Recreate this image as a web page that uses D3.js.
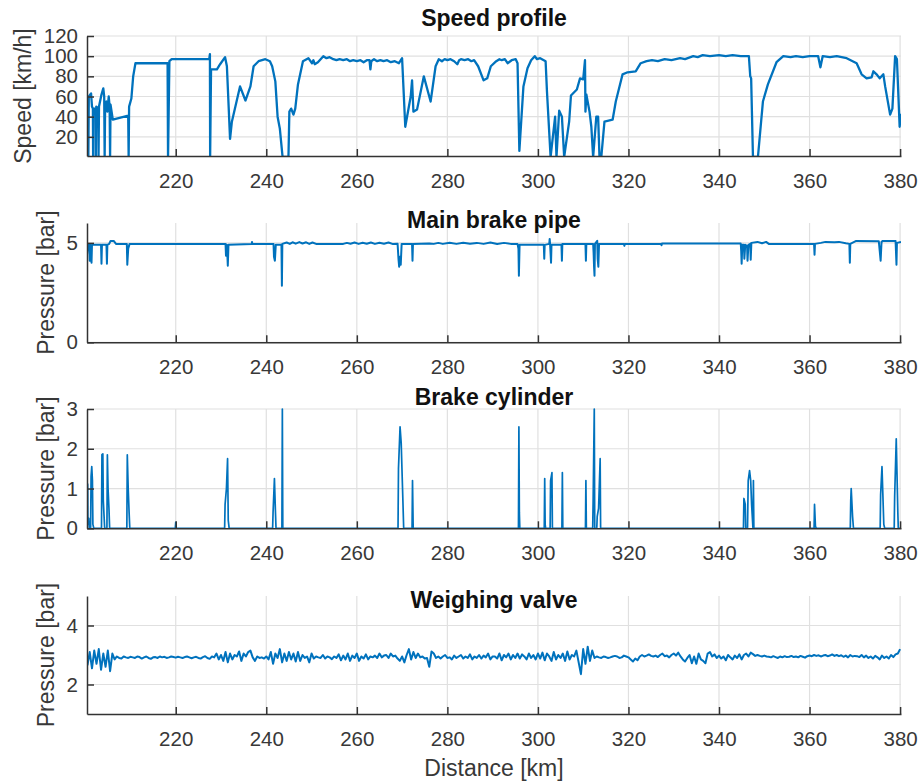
<!DOCTYPE html>
<html>
<head>
<meta charset="utf-8">
<script src="https://cdn.jsdelivr.net/npm/d3@7"></script>
<style>
  body { margin: 0; background: #fff; }
  svg { font-family: "Liberation Sans", Arial, Helvetica, sans-serif; }
</style>
</head>
<body>
<script>
// distance axis shared by all four panels
var kmDomain = [200.4, 380.2];
var kmTicks = [220, 240, 260, 280, 300, 320, 340, 360, 380];

// speed profile [km, km/h]
var speedData = [
  [200.4, 60], [200.6, 58], [200.7, 0], [200.8, 60], [201.3, 63], [201.5, 50], [201.7, 48], [201.75, 0],
  [201.8, 48], [202.3, 48], [202.35, 0], [202.45, 50], [202.9, 48], [202.95, 0], [203.05, 50], [203.6, 62],
  [204.0, 68], [204.2, 60], [204.3, 0], [204.4, 50], [204.7, 55], [204.9, 45], [205.2, 60], [205.4, 50],
  [205.5, 0], [205.6, 52], [206.1, 37], [209.5, 41], [209.6, 0], [209.7, 50], [210.2, 58], [210.6, 80],
  [211.1, 93], [218.2, 93], [218.3, 0], [218.6, 95], [219.1, 97], [227.4, 97], [227.55, 102], [227.6, 0],
  [227.8, 87], [229.1, 87], [229.8, 92], [230.9, 99], [231.3, 90], [232.0, 18], [232.4, 35], [234.2, 70],
  [235.4, 56], [236.5, 70], [237.2, 90], [238.3, 95], [239.8, 97], [240.8, 95], [241.3, 90], [242.0, 75],
  [242.5, 40], [243.0, 28], [243.6, 0], [244.9, 0], [245.1, 45], [245.5, 48], [246.0, 42], [246.4, 48],
  [247.0, 72], [248.1, 95], [249.3, 98], [250.1, 93], [250.4, 96], [250.7, 92], [251.4, 94], [252.6, 100],
  [253.3, 98], [254.0, 99], [254.8, 97], [255.5, 96], [256.2, 97], [257.0, 96], [257.8, 97], [258.5, 95],
  [259.2, 96], [260.0, 95], [260.8, 96], [261.5, 94], [262.2, 96], [262.8, 96], [263.0, 87], [263.2, 95],
  [263.8, 97], [264.5, 95], [265.2, 96], [265.9, 95], [266.7, 96], [267.5, 94], [268.4, 95], [269.3, 93],
  [270.0, 98], [270.7, 30], [271.9, 60], [272.2, 76], [272.5, 45], [273.3, 47], [274.8, 80], [276.3, 55],
  [277.4, 90], [278.1, 97], [278.8, 95], [279.4, 97], [280.0, 96], [280.7, 97], [281.5, 95], [282.2, 92],
  [282.6, 96], [283.0, 97], [283.8, 96], [284.6, 97], [285.3, 95], [285.9, 96], [286.8, 90], [288.0, 76],
  [288.8, 78], [289.6, 90], [290.8, 95], [291.5, 97], [292.0, 96], [292.7, 97], [293.3, 93], [294.2, 96],
  [295.1, 97], [295.5, 93], [295.9, 6], [296.8, 70], [297.7, 88], [298.5, 96], [299.3, 100], [299.8, 97],
  [300.5, 98], [301.7, 95], [302.0, 65], [302.8, 0], [303.8, 40], [304.1, 0], [304.7, 46], [305.3, 40],
  [305.8, 0], [306.9, 35], [307.3, 61], [308.6, 67], [309.3, 78], [310.0, 77], [310.4, 96], [310.5, 45],
  [310.7, 62], [311.4, 45], [311.8, 30], [312.2, 0], [312.9, 40], [313.3, 40], [313.6, 0], [314.0, 0],
  [314.7, 35], [316.5, 37], [317.2, 55], [318.7, 82], [319.8, 84], [321.6, 85], [322.7, 93], [324.0, 95],
  [325.2, 96], [326.5, 95], [328.0, 97], [329.5, 96], [331.4, 98], [332.5, 97], [334.3, 100], [335.3, 99],
  [336.4, 101], [338.0, 100], [340.0, 101], [341.5, 100], [343.0, 101], [344.8, 100], [346.6, 100],
  [346.9, 80], [347.1, 78], [347.5, 0], [348.6, 0], [349.7, 55], [350.8, 72], [352.7, 94], [354.2, 100],
  [355.8, 99], [357.0, 100], [358.5, 99], [360.0, 100], [361.9, 100], [362.4, 89], [362.9, 100], [364.5, 99],
  [366.0, 100], [368.2, 98], [370.4, 93], [371.5, 82], [372.6, 78], [373.7, 79], [374.1, 85], [374.8, 82],
  [375.5, 78], [376.3, 82], [376.7, 70], [377.8, 42], [378.3, 48], [378.9, 100], [379.3, 97], [379.9, 30],
  [380.2, 43]
];

// main brake pipe [km, bar]
var pipeData = [
  [200.4, 4.4], [200.6, 4.9], [200.9, 4.9], [201.0, 4.1], [201.1, 4.9], [201.4, 4.0], [201.5, 4.9],
  [203.5, 4.9], [203.6, 3.95], [203.7, 4.9], [204.7, 4.9], [204.8, 3.95], [204.9, 4.9], [205.3, 4.95],
  [205.6, 5.1], [206.3, 5.1], [206.8, 4.95], [209.2, 4.95], [209.3, 3.9], [209.5, 4.7], [209.8, 4.95],
  [231.0, 4.95], [231.1, 4.35], [231.25, 4.9], [231.4, 4.4], [231.5, 3.85], [231.65, 4.9], [236.8, 4.95],
  [236.85, 5.05], [236.9, 4.95], [241.6, 4.95], [241.7, 4.3], [241.9, 4.1], [242.1, 4.9], [243.35, 4.9],
  [243.45, 2.85], [243.55, 4.95], [244.5, 5.02], [245.2, 4.95], [245.8, 5.03], [246.5, 4.96], [247.3, 5.04],
  [248.0, 4.97], [248.8, 5.03], [249.5, 4.95], [250.2, 5.02], [251.0, 4.95], [257.0, 4.95], [257.8, 5.0],
  [258.6, 4.96], [259.5, 5.02], [260.4, 4.95], [261.3, 5.01], [262.2, 4.96], [263.1, 5.02], [264.0, 4.95],
  [265.0, 5.01], [266.0, 4.96], [267.0, 5.02], [268.0, 4.94], [269.0, 4.96], [269.2, 4.2], [269.35, 3.8],
  [269.5, 4.3], [269.7, 3.9], [269.9, 4.95], [272.2, 4.95], [272.3, 4.1], [272.4, 4.95], [276.0, 4.97],
  [277.0, 4.95], [278.0, 5.0], [279.0, 4.95], [280.5, 5.01], [282.0, 4.95], [283.5, 5.01], [285.0, 4.96],
  [286.5, 5.0], [288.0, 4.95], [289.5, 5.02], [291.0, 4.94], [292.5, 5.0], [294.0, 4.95], [295.5, 4.95],
  [295.7, 4.7], [295.8, 3.35], [295.95, 4.9], [301.3, 4.9], [301.4, 4.2], [301.5, 4.9], [302.5, 4.95],
  [302.6, 5.2], [302.7, 4.9], [302.9, 4.0], [303.0, 4.9], [305.2, 4.9], [305.3, 4.1], [305.4, 4.95],
  [310.5, 4.95], [310.6, 4.1], [310.7, 4.95], [312.2, 4.95], [312.3, 4.5], [312.4, 3.8], [312.5, 3.35],
  [312.6, 4.95], [313.1, 5.1], [313.2, 4.2], [313.35, 3.8], [313.5, 4.95], [319.0, 4.95], [319.1, 4.85],
  [319.2, 4.95], [327.2, 4.95], [327.3, 4.88], [327.4, 4.97], [344.8, 4.97], [344.9, 4.6], [345.0, 3.95],
  [345.15, 4.9], [345.5, 4.9], [345.6, 4.2], [345.8, 4.9], [346.2, 4.85], [346.3, 4.1], [346.5, 4.9],
  [346.9, 4.95], [347.0, 4.15], [347.15, 5.0], [348.5, 5.05], [349.5, 4.98], [350.4, 5.05], [351.0, 4.95],
  [361.0, 4.95], [361.1, 4.4], [361.2, 4.95], [362.5, 5.0], [363.5, 5.05], [365.5, 5.03], [366.5, 5.05],
  [368.0, 4.98], [368.8, 4.95], [368.9, 4.0], [369.0, 4.95], [370.3, 5.1], [375.3, 5.08], [375.5, 4.6],
  [375.7, 4.1], [375.9, 5.05], [376.2, 5.1], [379.0, 5.1], [379.1, 4.5], [379.2, 3.9], [379.3, 5.0],
  [380.2, 5.05]
];

// brake cylinder [km, bar]
var cylinderData = [
  [200.4, 1.15], [200.55, 1.1], [200.6, 0.1], [200.8, 0.25], [200.9, 0], [201.2, 0], [201.3, 1.3],
  [201.45, 1.55], [201.6, 1.2], [201.7, 0.1], [201.9, 0], [203.6, 0], [203.7, 1.85], [203.9, 1.87],
  [204.0, 0.7], [204.15, 0.35], [204.3, 0], [204.8, 0], [204.9, 1.85], [205.05, 1.0], [205.25, 0.5],
  [205.4, 0], [209.2, 0], [209.3, 1.85], [209.5, 1.0], [209.7, 0.4], [209.85, 0], [219.9, 0], [220.0, 0.15],
  [220.1, 0], [230.8, 0], [230.9, 0.6], [231.2, 1.0], [231.45, 1.75], [231.6, 0.2], [231.8, 0], [241.4, 0],
  [241.5, 0.4], [241.8, 1.25], [242.0, 0.5], [242.15, 0], [243.45, 0], [243.55, 3.0], [243.65, 0],
  [269.1, 0], [269.2, 1.5], [269.55, 2.55], [269.8, 2.15], [270.2, 0.6], [270.35, 0], [272.2, 0],
  [272.3, 1.2], [272.45, 0], [295.7, 0], [295.8, 2.55], [295.9, 0.4], [296.0, 0], [301.4, 0], [301.5, 1.25],
  [301.6, 0.1], [301.7, 0], [302.7, 0], [302.8, 1.2], [303.1, 1.4], [303.2, 0], [305.3, 0], [305.4, 1.4],
  [305.5, 0], [310.5, 0], [310.6, 1.2], [310.7, 0], [312.1, 0], [312.2, 0.7], [312.45, 3.0], [312.55, 0],
  [313.0, 0], [313.1, 0.3], [313.4, 0.5], [313.75, 1.75], [313.85, 0], [345.4, 0], [345.5, 0.75],
  [345.8, 0.6], [345.9, 0], [346.3, 0], [346.45, 1.2], [346.75, 1.45], [347.0, 1.2], [347.2, 0.6],
  [347.5, 0], [347.6, 1.2], [347.7, 0], [361.0, 0], [361.1, 0.6], [361.3, 0.05], [361.5, 0], [369.0, 0],
  [369.1, 0.7], [369.2, 1.0], [369.5, 0.3], [369.7, 0], [375.6, 0], [375.7, 0.85], [376.0, 1.55],
  [376.4, 0.1], [376.6, 0], [378.7, 0], [378.8, 0.8], [379.15, 2.25], [379.5, 0.4], [379.6, 0], [380.2, 0]
];

// weighing valve, one reading every 0.5 km from 200.5 km [bar]
var valveStart = 200.5;
var valveStep = 0.5;
var valveValues = [
  2.65, 3.10, 2.55, 3.15, 2.70, 3.20, 2.50, 3.05, 2.60, 3.15,
  2.45, 3.05, 2.85, 2.95, 2.90, 2.88, 2.95, 2.92, 2.90, 2.94,
  2.92, 2.90, 2.95, 2.93, 2.88, 2.92, 2.95, 2.90, 2.87, 2.92,
  2.93, 2.90, 2.95, 2.92, 2.94, 2.90, 2.92, 2.95, 2.93, 2.91,
  2.94, 2.92, 2.90, 2.93, 2.95, 2.92, 2.89, 2.92, 2.94, 2.90,
  2.88, 2.93, 2.96, 2.90, 2.87, 2.95, 2.92, 3.05, 2.85, 3.00,
  2.80, 3.10, 2.75, 3.05, 2.85, 3.00, 2.95, 3.12, 2.80, 3.05,
  2.95, 3.10, 3.15, 2.92, 2.80, 2.95, 2.90, 2.92, 2.88, 2.95,
  2.85, 3.10, 2.70, 3.05, 2.90, 3.20, 2.75, 3.05, 2.80, 3.10,
  2.85, 3.05, 2.78, 3.10, 2.80, 3.00, 2.90, 2.95, 2.75, 3.05,
  2.88, 2.95, 2.92, 2.90, 3.00, 2.88, 2.95, 2.92, 2.86, 2.95,
  2.90, 3.02, 2.82, 2.98, 2.85, 3.05, 2.80, 2.98, 2.90, 3.05,
  2.80, 2.95, 2.88, 3.02, 2.85, 2.95, 2.92, 2.98, 2.90, 3.05,
  2.92, 2.98, 3.00, 2.90, 3.05, 2.95, 2.98, 2.88, 2.80, 2.95,
  2.75, 3.00, 3.20, 2.85, 3.10, 2.90, 3.05, 2.92, 2.95, 2.88,
  2.90, 2.60, 3.12, 3.05, 2.90, 2.95, 2.88, 2.95, 3.00, 2.90,
  2.92, 2.85, 2.98, 2.90, 2.95, 3.00, 2.88, 2.95, 2.90, 3.02,
  2.85, 2.95, 2.90, 3.00, 2.88, 2.98, 2.92, 3.05, 2.85, 2.95,
  2.95, 2.88, 3.05, 2.82, 3.00, 2.92, 3.05, 2.85, 3.00, 2.90,
  3.05, 2.88, 3.02, 2.95, 2.85, 3.05, 2.90, 3.00, 2.85, 3.05,
  2.88, 3.08, 2.82, 3.05, 2.95, 2.80, 3.10, 2.85, 3.00, 2.90,
  3.05, 2.80, 3.12, 2.85, 3.00, 2.95, 3.15, 2.75, 2.35, 3.20,
  2.70, 3.28, 2.80, 3.15, 2.90, 2.95, 2.92, 2.90, 2.95, 2.93,
  2.90, 2.92, 2.95, 2.97, 2.95, 2.90, 2.92, 2.98, 2.95, 2.92,
  2.85, 2.78, 2.88, 2.82, 2.95, 3.00, 2.95, 2.98, 3.02, 2.97,
  2.95, 2.98, 2.93, 3.00, 3.05, 2.96, 2.98, 2.92, 3.00, 3.05,
  2.98, 3.08, 2.95, 2.85, 2.78, 2.90, 3.00, 2.72, 2.95, 2.70,
  3.05, 2.85, 2.80, 2.72, 3.05, 3.10, 2.95, 3.02, 2.90, 2.98,
  2.88, 2.95, 2.82, 3.00, 2.92, 2.85, 2.98, 2.90, 3.02, 2.85,
  3.00, 3.05, 2.95, 3.08, 3.03, 2.97, 3.00, 2.97, 2.95, 2.98,
  2.95, 2.94, 2.92, 2.96, 2.93, 2.90, 2.95, 2.92, 2.96, 2.93,
  2.94, 2.97, 2.93, 2.95, 2.92, 2.97, 2.94, 2.91, 2.96, 2.98,
  2.96, 3.00, 2.97, 2.99, 2.95, 2.98, 3.00, 2.96, 2.98, 3.02,
  2.97, 3.00, 2.96, 2.99, 2.94, 2.98, 2.92, 3.00, 2.95, 2.97,
  2.96, 2.93, 3.00, 2.92, 2.98, 2.90, 2.95, 2.88, 2.97, 2.92,
  2.85, 2.98, 2.90, 2.95, 2.88, 3.00, 2.93, 3.02, 3.05, 3.20
];
var valveData = valveValues.map(function(v, i) { return [valveStart + i * valveStep, v]; });

var titles = ['Speed profile', 'Main brake pipe', 'Brake cylinder', 'Weighing valve'];
var yLabels = ['Speed [km/h]', 'Pressure [bar]', 'Pressure [bar]', 'Pressure [bar]'];
var yDomains = [[1, 120], [0, 6], [0, 3], [1, 5]];
var yTicks = [[20, 40, 60, 80, 100, 120], [0, 5], [0, 1, 2, 3], [2, 4]];

var width = 922, height = 784;
var left = 87, right = 901;
var lineColor = '#0072bd';
var axisColor = '#333';
var fontFamily = '"Liberation Sans", Arial, Helvetica, sans-serif';

// layout of each panel: top, bottom, title baseline, y-label x, line width
var panels = [
  {data: speedData, top: 36, bottom: 156, titleY: 26, labelX: 23, lw: 2.3},
  {data: pipeData, top: 223, bottom: 342.3, titleY: 228, labelX: 46, lw: 2},
  {data: cylinderData, top: 409, bottom: 528.3, titleY: 405, labelX: 46, lw: 1.7},
  {data: valveData, top: 596, bottom: 714, titleY: 608, labelX: 46, lw: 2}
];

var svg = d3.select('body').append('svg')
  .attr('width', width)
  .attr('height', height);

var x = d3.scaleLinear().domain(kmDomain).range([left, right]);

panels.forEach(function(p, i) {
  var y = d3.scaleLinear().domain(yDomains[i]).range([p.bottom, p.top]);
  var g = svg.append('g');

  // grid
  g.selectAll('line.vgrid').data(kmTicks).enter().append('line')
    .attr('x1', function(d) { return x(d); })
    .attr('x2', function(d) { return x(d); })
    .attr('y1', p.top)
    .attr('y2', p.bottom)
    .attr('stroke', '#e0e0e0')
    .attr('stroke-width', 1.2);

  g.selectAll('line.hgrid').data(yTicks[i]).enter().append('line')
    .attr('x1', left)
    .attr('x2', right)
    .attr('y1', function(d) { return y(d); })
    .attr('y2', function(d) { return y(d); })
    .attr('stroke', '#e0e0e0')
    .attr('stroke-width', 1.2);

  svg.append('clipPath').attr('id', 'clip' + i)
    .append('rect')
    .attr('x', left)
    .attr('y', p.top - 1)
    .attr('width', right - left)
    .attr('height', p.bottom - p.top + 1);

  var line = d3.line()
    .x(function(d) { return x(d[0]); })
    .y(function(d) { return y(d[1]); });

  g.append('path')
    .datum(p.data)
    .attr('clip-path', 'url(#clip' + i + ')')
    .attr('d', line)
    .attr('fill', 'none')
    .attr('stroke', lineColor)
    .attr('stroke-width', p.lw)
    .attr('stroke-linejoin', 'round');

  // axes, MATLAB-like inward ticks
  var xAxis = g.append('g')
    .attr('transform', 'translate(0,' + p.bottom + ')')
    .call(d3.axisBottom(x).tickValues(kmTicks).tickFormat(d3.format('d'))
      .tickSizeInner(-7).tickSizeOuter(0).tickPadding(17));

  var yAxis = g.append('g')
    .attr('transform', 'translate(' + left + ',0)')
    .call(d3.axisLeft(y).tickValues(yTicks[i]).tickFormat(d3.format('d'))
      .tickSizeInner(-7).tickSizeOuter(0).tickPadding(9));

  [xAxis, yAxis].forEach(function(a) {
    a.select('.domain').attr('stroke', axisColor).attr('stroke-width', 1.5);
    a.selectAll('.tick line').attr('stroke', axisColor).attr('stroke-width', 1.5);
    a.selectAll('.tick text')
      .attr('fill', '#383838')
      .attr('font-size', 20.5)
      .attr('font-family', fontFamily);
  });

  g.append('text')
    .attr('x', (left + right) / 2)
    .attr('y', p.titleY)
    .attr('text-anchor', 'middle')
    .attr('font-size', 23)
    .attr('font-weight', 'bold')
    .attr('fill', '#111')
    .text(titles[i]);

  g.append('text')
    .attr('transform', 'translate(' + p.labelX + ',' + (p.top + p.bottom) / 2 + ') rotate(-90)')
    .attr('text-anchor', 'middle')
    .attr('dy', '0.35em')
    .attr('font-size', 23)
    .attr('fill', '#383838')
    .text(yLabels[i]);
});

svg.append('text')
  .attr('x', (left + right) / 2)
  .attr('y', 776)
  .attr('text-anchor', 'middle')
  .attr('font-size', 23)
  .attr('fill', '#383838')
  .text('Distance [km]');
</script>
</body>
</html>
